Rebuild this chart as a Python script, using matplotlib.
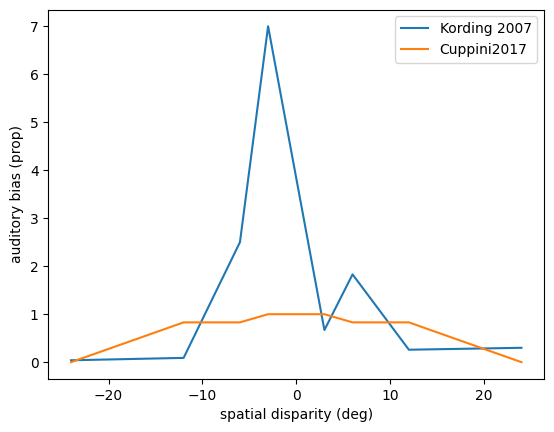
import matplotlib.pyplot as plt

# spatial disparities (deg)
disparity = [-24, -12, -6, -3, 3, 6, 12, 24]

# auditory bias values
kording_2007 = [0.04, 0.09, 2.5, 7.0, 0.67, 1.83, 0.26, 0.3]
cuppini_2017 = [0.0, 0.83, 0.83, 1.0, 1.0, 0.83, 0.83, 0.0]

fig = plt.figure(figsize=(5.54, 4.32), dpi=100)
plt.subplots_adjust(left=0.0875, right=0.982, top=0.978, bottom=0.1227)

plt.plot(disparity, kording_2007, label='Kording 2007')
plt.plot(disparity, cuppini_2017, label='Cuppini2017')
plt.xlabel('spatial disparity (deg)')
plt.ylabel('auditory bias (prop)')
plt.legend()

plt.savefig('out.png')
